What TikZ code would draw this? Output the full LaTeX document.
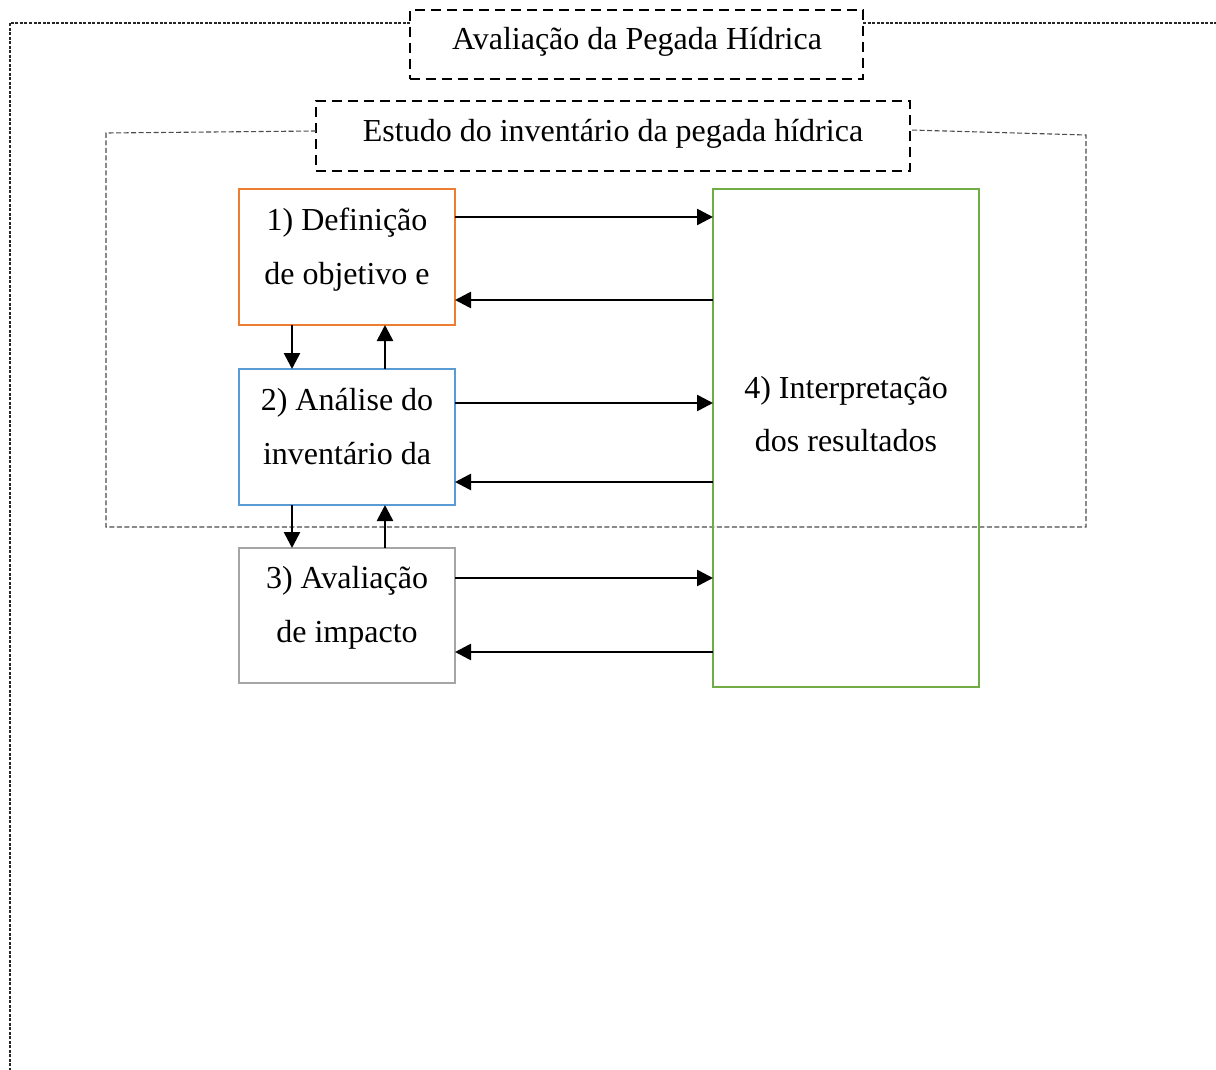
\documentclass[tikz,border=0pt]{standalone}
\usepackage{fontspec}
\setmainfont{Liberation Serif}
\usetikzlibrary{arrows.meta}
\definecolor{cOrange}{HTML}{ED7D31}
\definecolor{cBlue}{HTML}{5B9BD5}
\definecolor{cGray}{HTML}{A5A5A5}
\definecolor{cGreen}{HTML}{70AD47}
\begin{document}
\begin{tikzpicture}[x=1pt,y=-1pt,
  stagebox/.style={draw=#1,line width=2.8pt,minimum width=216pt,minimum height=136pt,inner sep=0pt,outer sep=0pt},
  titlebox/.style={draw=black,line width=1.4pt,dash pattern=on 10pt off 6pt,inner sep=0pt,outer sep=0pt},
  txt/.style={anchor=base,inner sep=0pt,font=\fontsize{32}{38}\selectfont},
  arr/.style={line width=2.6pt,-{Triangle[length=16pt,width=16pt]}},
  outerframe/.style={line width=1.1pt,black!85,dash pattern=on 3pt off 1.5pt},
  innerframe/.style={line width=1.1pt,black!70,dash pattern=on 5pt off 2.5pt}]
\useasboundingbox (0,0) rectangle (1216,1070);
% title boxes
\node[titlebox,minimum width=453pt,minimum height=69pt] (title) at (636.5,44.5) {};
\node[txt] (titletxt) at (637,50) {Avaliação da Pegada Hídrica};
\node[titlebox,minimum width=594pt,minimum height=70pt] (sub) at (613,136) {};
\node[txt] (subtxt) at (613,142) {Estudo do inventário da pegada hídrica};
% outer frame
\coordinate (oL) at (10,23);
\coordinate (oB) at (10,1080);
\coordinate (oR) at (1225,23);
\draw[outerframe] (title.west |- oL) -- (oL) -- (oB);
\draw[outerframe] (title.east |- oL) -- (oR);
% inner frame
\coordinate (iTL) at (106,133);
\coordinate (iBL) at (106,527);
\coordinate (iBR) at (1086,527);
\coordinate (iTR) at (1086,135);
\coordinate (sL) at (0,131);
\coordinate (sR) at (0,130);
\draw[innerframe] (sub.west |- sL) -- (iTL) -- (iBL) -- (iBR) -- (iTR) -- (sub.east |- sR);
% stage boxes
\node[stagebox=cOrange] (b1) at (347,257) {};
\node[stagebox=cBlue] (b2) at (347,437) {};
\node[stagebox=cGray,minimum height=135pt] (b3) at (347,615.5) {};
\node[stagebox=cGreen,minimum width=266pt,minimum height=498pt] (b4) at (846,438) {};
\node[txt] (t1a) at (347,230) {1) Definição};
\node[txt] (t1b) at (347,284) {de objetivo e};
\node[txt] (t2a) at (347,410) {2) Análise do};
\node[txt] (t2b) at (347,464) {inventário da};
\node[txt] (t3a) at (347,588) {3) Avaliação};
\node[txt] (t3b) at (347,642) {de impacto};
\node[txt] (t4a) at (846,398) {4) Interpretação};
\node[txt] (t4b) at (846,451) {dos resultados};
% vertical arrows
\coordinate (xd) at (292,0);
\coordinate (xu) at (385,0);
\draw[arr] (b1.south -| xd) -- (b2.north -| xd);
\draw[arr] (b2.north -| xu) -- (b1.south -| xu);
\draw[arr] (b2.south -| xd) -- (b3.north -| xd);
\draw[arr] (b3.north -| xu) -- (b2.south -| xu);
% horizontal arrows
\coordinate (h1) at (0,217);
\coordinate (h2) at (0,300);
\coordinate (h3) at (0,403);
\coordinate (h4) at (0,482);
\coordinate (h5) at (0,578);
\coordinate (h6) at (0,652);
\draw[arr] (b1.east |- h1) -- (b4.west |- h1);
\draw[arr] (b4.west |- h2) -- (b1.east |- h2);
\draw[arr] (b2.east |- h3) -- (b4.west |- h3);
\draw[arr] (b4.west |- h4) -- (b2.east |- h4);
\draw[arr] (b3.east |- h5) -- (b4.west |- h5);
\draw[arr] (b4.west |- h6) -- (b3.east |- h6);
\end{tikzpicture}
\end{document}
